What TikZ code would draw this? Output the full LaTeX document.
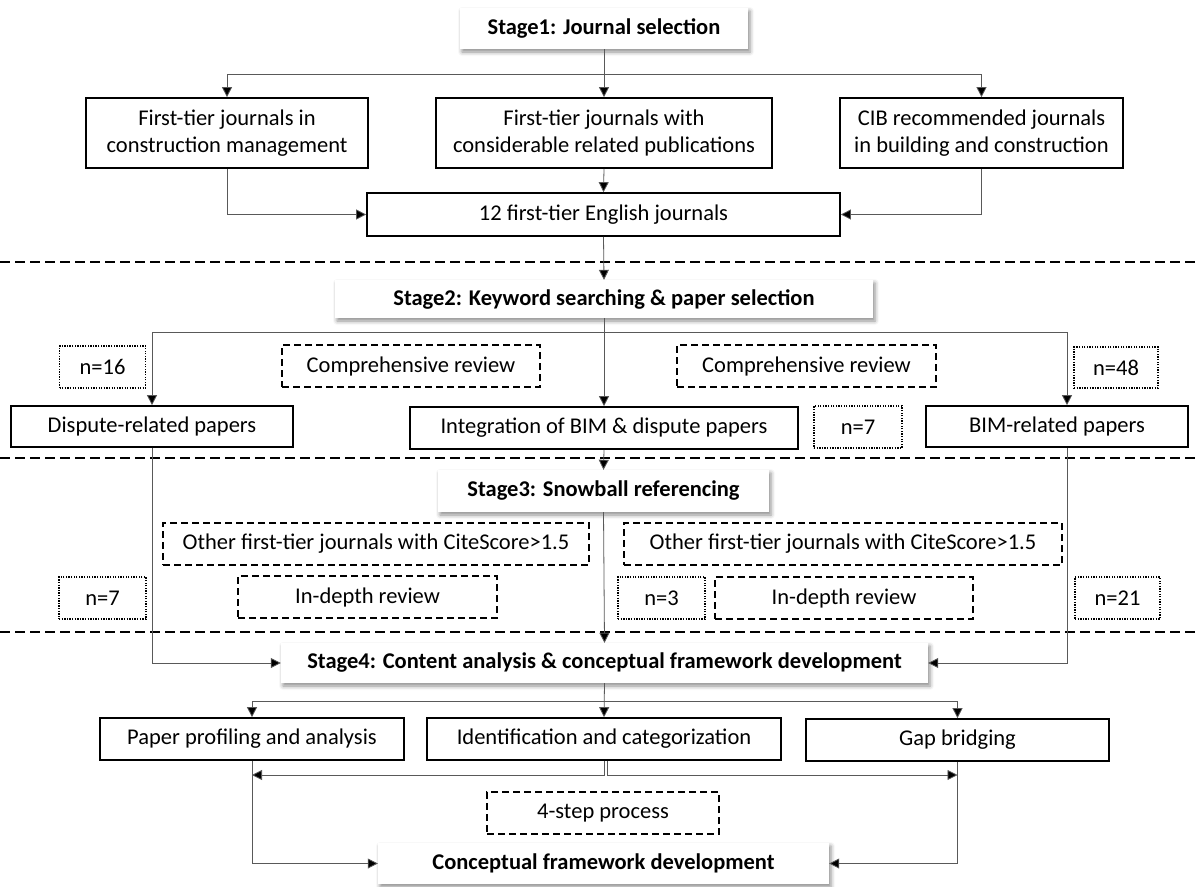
\documentclass[tikz,border=0pt]{standalone}
\usepackage{fontspec}
\setmainfont{Carlito}
\usetikzlibrary{arrows.meta,shadows.blur}
\tikzset{
  every node/.style={font=\fontsize{22.5}{27}\selectfont, inner sep=0pt, align=center},
  box/.style={draw=black, line width=1.7pt, fill=white},
  stagebox/.style={fill=white, font=\fontsize{22.5}{27}\selectfont\bfseries,
     blur shadow={shadow xshift=2pt, shadow yshift=-3pt, shadow blur radius=4pt, shadow opacity=45}},
  dashbox/.style={draw=black, line width=1.4pt, dash pattern=on 7pt off 4pt},
  dotbox/.style={draw=black, line width=1.4pt, dash pattern=on 1.3pt off 1.3pt},
  conn/.style={draw=black!65, line width=0.8pt},
  arr/.style={conn, -{Triangle[length=10pt,width=10pt,fill=black]}},
  sepline/.style={draw=black, line width=1.4pt, dash pattern=on 10pt off 5pt},
}
\newcommand{\bx}[5]{\node[#1, minimum width=#4pt, minimum height=#5pt] (#2) at #3}
\begin{document}
\begin{tikzpicture}[x=1pt,y=-1pt]
\useasboundingbox (0,0) rectangle (1199,886);
% separators
\coordinate (l1) at (0,262); \coordinate (r1) at (1199,262);
\coordinate (l2) at (0,458); \coordinate (r2) at (1199,458);
\coordinate (l3) at (0,632); \coordinate (r3) at (1199,632);
\draw[sepline] (l1) -- (r1);
\draw[sepline] (l2) -- (r2);
\draw[sepline] (l3) -- (r3);
% stage 1
\bx{stagebox}{s1}{(604,28.5)}{288}{41} {Stage1: Journal selection};
\bx{box}{j1}{(227,133)}{282}{70} {First-tier journals in\\construction management};
\bx{box}{j2}{(604,133)}{336}{70} {First-tier journals with\\considerable related publications};
\bx{box}{j3}{(981.5,133)}{283}{70} {CIB recommended journals\\in building and construction};
\bx{box}{j12}{(603.5,214.5)}{473}{43} {12 first-tier English journals};
% stage 2
\bx{stagebox}{s2}{(604,299)}{538}{38} {Stage2: Keyword searching \& paper selection};
\bx{dotbox}{n16}{(102.5,367)}{86}{42} {n=16};
\bx{dashbox}{cr1}{(411,366)}{258}{42} {Comprehensive review};
\bx{dashbox}{cr2}{(806.5,366)}{259}{42} {Comprehensive review};
\bx{dotbox}{n48}{(1116,367.5)}{84}{41} {n=48};
\bx{box}{p1}{(152,426.5)}{282}{41} {Dispute-related papers};
\bx{box}{p2}{(604,428)}{388}{42} {Integration of BIM \& dispute papers};
\bx{dotbox}{n7a}{(858,427)}{88}{42} {n=7};
\bx{box}{p3}{(1057,426.5)}{262}{41} {BIM-related papers};
% stage 3
\bx{stagebox}{s3}{(603.5,491)}{331}{42} {Stage3: Snowball referencing};
\bx{dashbox}{o1}{(376,544)}{426}{42} {Other first-tier journals with CiteScore>1.5};
\bx{dashbox}{o2}{(843,544)}{438}{42} {Other first-tier journals with CiteScore>1.5};
\bx{dotbox}{n7b}{(102.5,598)}{87}{42} {n=7};
\bx{dashbox}{d1}{(367.5,597)}{259}{42} {In-depth review};
\bx{dotbox}{n3}{(661.5,598)}{87}{42} {n=3};
\bx{dashbox}{d2}{(844,598)}{258}{42} {In-depth review};
\bx{dotbox}{n21}{(1117.5,598)}{85}{42} {n=21};
% stage 4
\bx{stagebox}{s4}{(604.5,663)}{647}{40} {Stage4: Content analysis \& conceptual framework development};
\bx{box}{a1}{(252,739)}{304}{42} {Paper profiling and analysis};
\bx{box}{a2}{(604,739)}{354}{42} {Identification and categorization};
\bx{box}{a3}{(957.5,740)}{303}{42} {Gap bridging};
\bx{dashbox}{st4}{(603,813)}{232}{42} {4-step process};
\bx{stagebox}{cf}{(603.5,863.5)}{451}{41} {Conceptual framework development};
% helper coordinates
\coordinate (b1) at (0,74);
\coordinate (b2) at (0,332);
\coordinate (bx) at (1067,0);
\coordinate (b4) at (0,701);
\coordinate (b5) at (0,775);
% connectors stage 1
\draw[arr] (s1.south) -- (j2.north);
\draw[arr] (s1.south |- b1) -| (j1.north);
\draw[arr] (s1.south |- b1) -| (j3.north);
\draw[arr] (j1.south) |- (j12.west);
\draw[arr] (j3.south) |- (j12.east);
\draw[arr] (j2.south) -- (j12.north);
\draw[arr] (j12.south) -- (s2.north);
% stage 2
\draw[arr] (s2.south) -- (p2.north);
\draw[arr] (s2.south |- b2) -| (p1.north);
\draw[arr] (s2.south |- b2) -| (bx |- p3.north);
\draw[arr] (p2.south) -- (s3.north);
% stage 3
\draw[arr] (s3.south) -- (s4.north);
\draw[arr] (p1.south) |- (s4.west);
\draw[arr] (bx |- p3.south) |- (s4.east);
% stage 4
\draw[arr] (s4.south) -- (a2.north);
\draw[arr] (s4.south |- b4) -| (a1.north);
\draw[arr] (s4.south |- b4) -| (a3.north);
\draw[arr] (a2.south) |- (a1.south |- b5);
\draw[arr] ([xshift=3pt]a2.south) |- (a3.south |- b5);
\draw[arr] (a1.south) |- (cf.west);
\draw[arr] (a3.south) |- (cf.east);
\end{tikzpicture}
\end{document}
